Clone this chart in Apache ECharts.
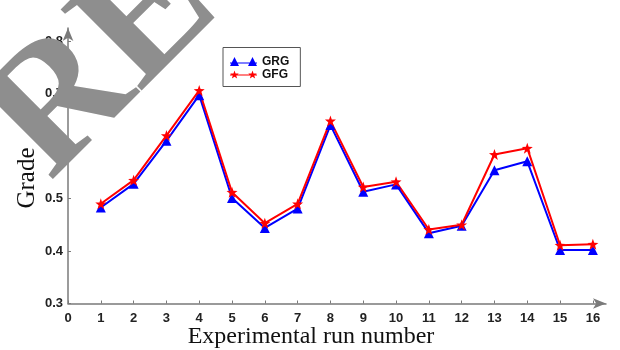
<!DOCTYPE html>
<html>
<head>
<meta charset="utf-8">
<script src="https://cdn.jsdelivr.net/npm/echarts@6/dist/echarts.min.js"></script>
<style>
  html, body { margin: 0; padding: 0; background: #fff; }
  #chart { width: 620px; height: 350px; }
</style>
</head>
<body>
<div id="chart"></div>
<script>
const runs = [1, 2, 3, 4, 5, 6, 7, 8, 9, 10, 11, 12, 13, 14, 15, 16];
const grg = [0.483, 0.528, 0.610, 0.697, 0.501, 0.444, 0.481, 0.640, 0.513, 0.527, 0.434, 0.448, 0.554, 0.571, 0.402, 0.402];
const gfg = [0.490, 0.535, 0.620, 0.706, 0.512, 0.453, 0.490, 0.648, 0.522, 0.532, 0.441, 0.450, 0.584, 0.596, 0.411, 0.413];
const xTicks = [0, 1, 2, 3, 4, 5, 6, 7, 8, 9, 10, 11, 12, 13, 14, 15, 16];
const yTicks = [0.3, 0.4, 0.5, 0.6, 0.7, 0.8];

const starPath = 'path://M5,0 L6.18,3.38 L9.76,3.46 L6.9,5.62 L7.94,9.05 L5,7 L2.06,9.05 L3.1,5.62 L0.24,3.46 L3.82,3.38 Z';
// legend icons: line with a marker at each end, like the original
const triIcon = 'path://M5,0 L10,10 L0,10 Z M25,0 L30,10 L20,10 Z M0,6 L30,6 L30,7.2 L0,7.2 Z';
const starIcon = 'path://M5,0 L6.18,3.38 L9.76,3.46 L6.9,5.62 L7.94,9.05 L5,7 L2.06,9.05 L3.1,5.62 L0.24,3.46 L3.82,3.38 Z ' +
  'M25,0 L26.18,3.38 L29.76,3.46 L26.9,5.62 L27.94,9.05 L25,7 L22.06,9.05 L23.1,5.62 L20.24,3.46 L23.82,3.38 Z ' +
  'M0,4.4 L30,4.4 L30,5.6 L0,5.6 Z';

const axisGray = '#7a7a7a';
const tickFont = { color: '#222', fontSize: 13, fontWeight: 'bold', fontFamily: 'Liberation Sans, Arial, sans-serif' };

let chart = echarts.init(document.getElementById('chart'));

const option = {
  animation: false,
  grid: { left: 68, right: 14, top: 28, bottom: 46.5 },
  legend: {
    left: 223,
    top: 47.5,
    orient: 'vertical',
    itemWidth: 27,
    itemHeight: 9,
    itemGap: 1,
    padding: [8, 11, 6, 7],
    borderColor: '#555',
    borderWidth: 1,
    textStyle: { color: '#111', fontSize: 12, fontWeight: 'bold', fontFamily: 'Liberation Sans, Arial, sans-serif' },
    data: [
      { name: 'GRG', icon: triIcon },
      { name: 'GFG', icon: starIcon }
    ]
  },
  xAxis: {
    type: 'value',
    min: 0,
    max: 16.4,
    axisLine: {
      show: true,
      symbol: ['none', 'arrow'],
      symbolSize: [8, 13],
      lineStyle: { color: axisGray, width: 1.5 }
    },
    axisTick: { show: true, inside: true, length: 3, customValues: xTicks, lineStyle: { color: axisGray } },
    axisLabel: Object.assign({ margin: 8, customValues: xTicks }, tickFont),
    splitLine: { show: false }
  },
  yAxis: {
    type: 'value',
    min: 0.3,
    max: 0.825,
    axisLine: {
      show: true,
      symbol: ['none', 'arrow'],
      symbolSize: [8, 13],
      lineStyle: { color: axisGray, width: 1.5 }
    },
    axisTick: { show: true, inside: true, length: 3, customValues: yTicks, lineStyle: { color: axisGray } },
    axisLabel: Object.assign({ margin: 5, customValues: yTicks, formatter: v => v.toFixed(1) }, tickFont),
    splitLine: { show: false }
  },
  series: [
    {
      name: 'GRG',
      type: 'line',
      data: runs.map((r, i) => [r, grg[i]]),
      symbol: 'triangle',
      symbolSize: 10,
      itemStyle: { color: '#0000ff' },
      lineStyle: { color: '#0000ff', width: 2 }
    },
    {
      name: 'GFG',
      type: 'line',
      data: runs.map((r, i) => [r, gfg[i]]),
      symbol: starPath,
      symbolSize: 11,
      itemStyle: { color: '#ff0000' },
      lineStyle: { color: '#ff0000', width: 2 }
    }
  ],
  graphic: [
    {
      type: 'text',
      x: 27, y: 178,
      rotation: Math.PI / 2,
      style: { text: 'Grade', fill: '#111', fontSize: 25, fontFamily: 'Liberation Serif, Times New Roman, serif', align: 'center', verticalAlign: 'middle' }
    },
    {
      type: 'text',
      x: 311, y: 337,
      style: { text: 'Experimental run number', fill: '#111', fontSize: 24, fontFamily: 'Liberation Serif, Times New Roman, serif', align: 'center', verticalAlign: 'middle' }
    },
    {
      // watermark
      type: 'text',
      x: 104, y: 64,
      rotation: Math.PI / 4,
      z: 100,
      style: { text: 'RE', fill: '#8e8e8e', fontSize: 175, fontWeight: 'bold', fontFamily: 'Liberation Serif, Times New Roman, serif', align: 'center', verticalAlign: 'middle' }
    }
  ]
};

chart.setOption(option);
window.addEventListener('resize', chart.resize);
</script>
</body>
</html>
